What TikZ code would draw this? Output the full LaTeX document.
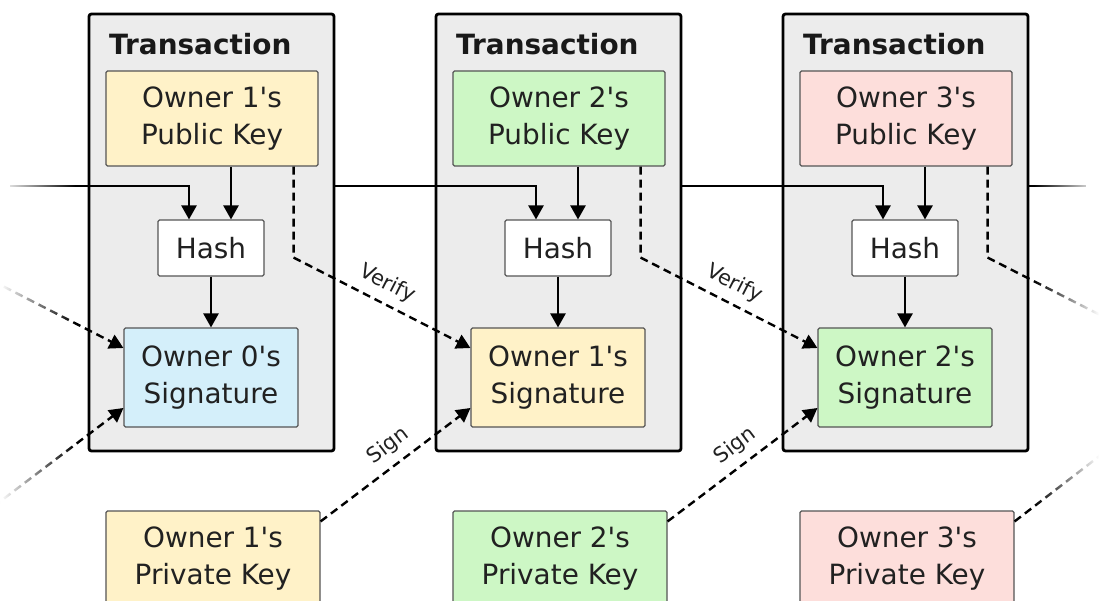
\documentclass[tikz,border=0pt]{standalone}
\usepackage{fontspec}
\setmainfont{DejaVu Sans}[Ligatures=TeXOff]
\usetikzlibrary{arrows.meta,fadings}
\definecolor{ky}{HTML}{FFF2C8}
\definecolor{kg}{HTML}{CDF7C5}
\definecolor{kp}{HTML}{FDDEDB}
\definecolor{kb}{HTML}{D4EFFA}
\definecolor{txg}{HTML}{ECECEC}
\definecolor{bord}{HTML}{555555}
\tikzfading[name=fadeR, left color=transparent!0, right color=transparent!100]
\tikzfading[name=fadeL, left color=transparent!100, right color=transparent!0]
\begin{document}
\begin{tikzpicture}[x=1bp,y=-1bp,
  txbox/.style={draw=black, line width=2.8bp, fill=txg, rounded corners=2.5bp,
    minimum width=245bp, minimum height=437bp, inner sep=0pt},
  keybox/.style={draw=bord, line width=1.1bp, rounded corners=1.5bp,
    minimum width=212bp, minimum height=95bp, align=center,
    font=\fontsize{28}{37}\selectfont, inner sep=0pt, text=black!87},
  hashbox/.style={keybox, fill=white, minimum width=106bp, minimum height=56bp},
  sigbox/.style={keybox, minimum width=174bp, minimum height=99bp},
  ttl/.style={anchor=west, font=\bfseries\fontsize{28}{34}\selectfont, text=black!90, inner sep=0pt},
  arr/.style={line width=2.4bp, -{Triangle[length=14bp,width=15bp]}},
  darr/.style={arr, dash pattern=on 8bp off 5bp},
  plain/.style={line width=2.4bp},
  lbl/.style={font=\fontsize{21}{24}\selectfont, sloped, above, inner sep=8bp, text=black!87},
]
\useasboundingbox (0,0) rectangle (1099,601);
\clip (0,0) rectangle (1099,601);
\fill[white] (0,0) rectangle (1099,601);

\foreach \i/\n/\m/\pc/\sc in {0/1/0/ky/kb, 1/2/1/kg/ky, 2/3/2/kp/kg}{
  \pgfmathsetmacro\dx{347*\i}
  \node[txbox] (tx\n) at ({211.5+\dx},232.5) {};
  \node[ttl] (tt\n) at ({109+\dx},44) {Transaction};
  \node[keybox, fill=\pc] (pk\n) at ({212+\dx},118.5) {Owner \n's\\Public Key};
  \node[hashbox] (h\n) at ({211+\dx},248) {Hash};
  \node[sigbox, fill=\sc] (sg\n) at ({211+\dx},377.5) {Owner \m's\\Signature};
  \node[keybox, fill=\pc, minimum width=214bp] (pv\n) at ({213+\dx},558.5) {Owner \n's\\Private Key};
  \draw[arr] ([xshift=20bp]h\n.north |- pk\n.south) -- ([xshift=20bp]h\n.north);
  \draw[arr] (h\n.south) -- (sg\n.north);
}

% hash chain
\coordinate (cy) at (10,186);
\coordinate (cyR) at (1086,186);
\draw[arr] (cy) -| ([xshift=-22bp]h1.north);
\draw[arr] (tx1.east |- cy) -| ([xshift=-22bp]h2.north);
\draw[arr] (tx2.east |- cy) -| ([xshift=-22bp]h3.north);
\draw[plain] (tx3.east |- cy) -- (cyR);

% off-picture ends
\coordinate (vL) at (-54,257);
\coordinate (sL) at (-27,522);
\coordinate (vR) at (1165,348);
\coordinate (sR) at (1162,408);

% incoming to first signature
\draw[darr] (vL) -- ([yshift=29.5bp]sg1.west);
\draw[darr] (sL) -- ([yshift=-30.5bp]sg1.west);

% verify
\draw[darr] ([xshift=-25bp]pk1.south east) -- ++(0,91)
  -- node[lbl, pos=0.48] {Verify} ([yshift=29.5bp]sg2.west);
\draw[darr] ([xshift=-25bp]pk2.south east) -- ++(0,91)
  -- node[lbl, pos=0.48] {Verify} ([yshift=29.5bp]sg3.west);
\draw[plain, dash pattern=on 8bp off 5bp] ([xshift=-25bp]pk3.south east) -- ++(0,91) -- (vR);

% sign
\draw[darr] ([yshift=-11bp]pv1.north east)
  -- node[lbl, pos=0.53] {Sign} ([yshift=-30.5bp]sg2.west);
\draw[darr] ([yshift=-11bp]pv2.north east)
  -- node[lbl, pos=0.53] {Sign} ([yshift=-30.5bp]sg3.west);
\draw[plain, dash pattern=on 8bp off 5bp] ([yshift=-11bp]pv3.north east) -- (sR);

% fading at the margins
\fill[white, path fading=fadeR] (0,0) rectangle (75,601);
\fill[white, path fading=fadeL] (1034,0) rectangle (1099,601);
\end{tikzpicture}
\end{document}
